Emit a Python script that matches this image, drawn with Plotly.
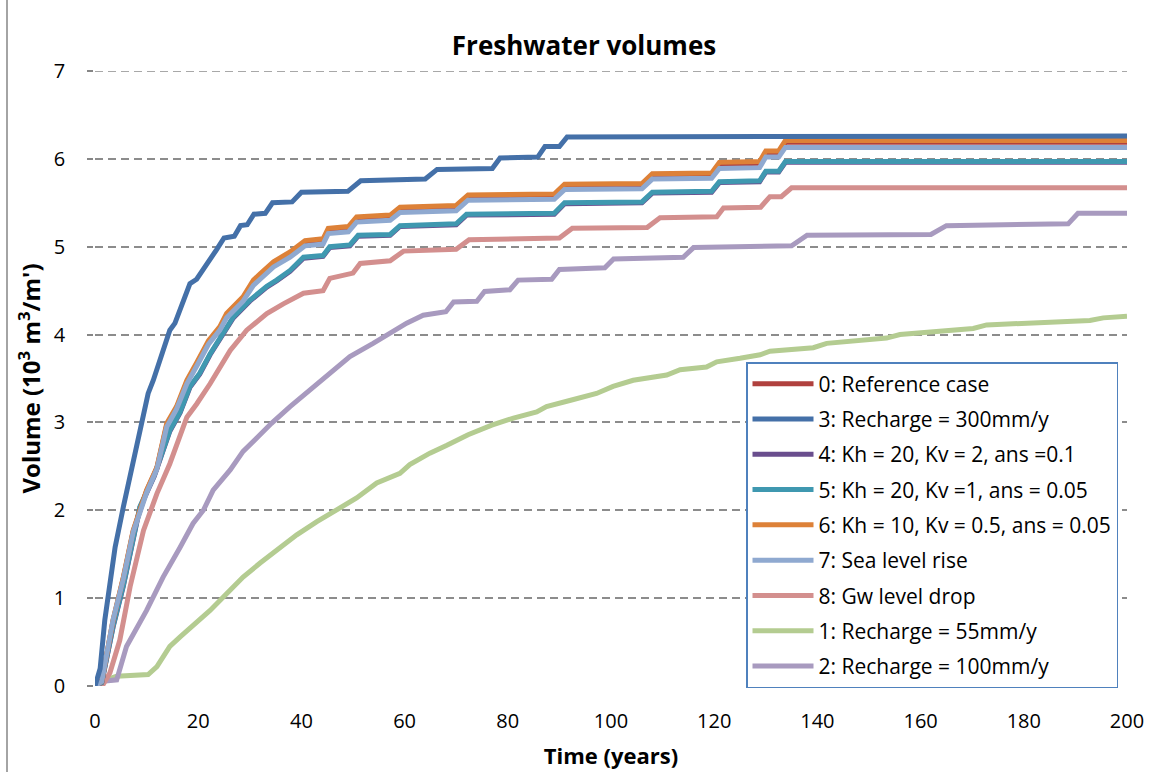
import plotly.graph_objects as go

# ---------------- data ----------------
names = [
    "0: Reference case",
    "3: Recharge = 300mm/y",
    "4: Kh = 20, Kv = 2, ans =0.1",
    "5: Kh = 20, Kv =1, ans = 0.05",
    "6: Kh = 10, Kv = 0.5, ans = 0.05",
    "7: Sea level rise",
    "8: Gw level drop",
    "1: Recharge = 55mm/y",
    "2: Recharge = 100mm/y",
]
colors = ["#B0413E", "#4470A8", "#6A4E8E", "#3F98B0", "#DD8138",
          "#8FA9D0", "#D38F8E", "#B4CC91", "#A89ABF"]

t_ref = [0, 1.3, 3.5, 5.5, 7.4, 10, 12, 13.9, 15.8, 17.8, 19.7, 22.0, 24.2, 25.5, 28.7, 30.7, 32.0,
         34.6, 37.8, 40.7, 44.2, 45.2, 49.1, 50.7, 57.2, 59.1, 70.0, 72.3, 89.0, 91.0, 106.0, 108.0,
         119.5, 121.0, 128.8, 130.0, 132.5, 133.8, 200]
v_ref = [0, 0.05, 0.74, 1.23, 1.76, 2.22, 2.48, 2.97, 3.16, 3.46, 3.66, 3.91, 4.07, 4.22, 4.41, 4.60,
         4.67, 4.81, 4.92, 5.05, 5.07, 5.19, 5.21, 5.32, 5.34, 5.43, 5.45, 5.57, 5.58, 5.69, 5.70,
         5.81, 5.82, 5.94, 5.95, 6.07, 6.07, 6.19, 6.19]

t_300 = [0, 1, 1.9, 3.9, 5.5, 7.4, 9.0, 10.3, 11.3, 12.6, 14.5, 15.5, 18.4, 19.7, 21.3, 22.3, 23.6,
         25.0, 27.0, 28.2, 29.5, 30.8, 33.0, 34.4, 38.2, 40.0, 49.0, 51.5, 64.0, 66.3, 77.0, 78.5,
         85.8, 87.2, 90.0, 91.5, 200]
v_300 = [0, 0.2, 0.75, 1.58, 2.04, 2.57, 2.99, 3.33, 3.48, 3.71, 4.05, 4.13, 4.58, 4.63, 4.76, 4.86,
         4.97, 5.10, 5.12, 5.24, 5.25, 5.37, 5.38, 5.50, 5.51, 5.62, 5.63, 5.75, 5.77, 5.88, 5.89,
         6.01, 6.02, 6.14, 6.14, 6.25, 6.26]

t_kh20kv2 = [0, 1.3, 3.5, 5.5, 8.7, 11.5, 14.5, 16.5, 18.4, 20.3, 22.3, 23.6, 26.8, 30.0, 33.3, 35.2,
             37.8, 40.4, 44.2, 45.5, 49.4, 51.0, 57.2, 59.1, 70.0, 72.0, 89.0, 91.0, 106.0, 108.0,
             119.5, 121.0, 128.8, 130.0, 132.5, 133.8, 200]
v_kh20kv2 = [0, 0.04, 0.67, 1.14, 2.03, 2.39, 2.90, 3.11, 3.40, 3.55, 3.77, 3.89, 4.19, 4.38, 4.54,
             4.61, 4.72, 4.87, 4.89, 4.99, 5.01, 5.12, 5.13, 5.23, 5.25, 5.36, 5.37, 5.49, 5.50, 5.61,
             5.62, 5.73, 5.74, 5.85, 5.85, 5.96, 5.96]

t_kh20kv1 = [0, 1.3, 3.5, 5.5, 8.7, 11.5, 14.5, 16.5, 18.4, 20.3, 22.3, 23.6, 26.8, 30.0, 33.3, 35.2,
             37.8, 40.4, 44.2, 45.5, 49.4, 51.0, 57.2, 59.1, 70.0, 72.0, 89.0, 91.0, 106.0, 108.0,
             119.5, 121.0, 128.8, 130.0, 132.5, 133.8, 200]
v_kh20kv1 = [0, 0.04, 0.68, 1.15, 2.04, 2.40, 2.91, 3.12, 3.41, 3.56, 3.78, 3.90, 4.20, 4.39, 4.55,
             4.62, 4.73, 4.88, 4.90, 5.00, 5.02, 5.13, 5.14, 5.24, 5.26, 5.37, 5.38, 5.50, 5.51, 5.62,
             5.63, 5.74, 5.75, 5.86, 5.86, 5.97, 5.97]

t_kh10 = [0, 1.3, 3.5, 5.5, 7.4, 10, 12, 13.9, 15.8, 17.8, 19.7, 22.0, 24.2, 25.5, 28.7, 30.7, 32.0,
          34.6, 37.8, 40.7, 44.2, 45.2, 49.1, 50.7, 57.2, 59.1, 70.0, 72.3, 89.0, 91.0, 106.0, 108.0,
          119.5, 121.0, 128.8, 130.0, 132.5, 133.8, 200]
v_kh10 = [0, 0.05, 0.75, 1.24, 1.77, 2.23, 2.49, 2.99, 3.18, 3.48, 3.68, 3.93, 4.09, 4.24, 4.43, 4.62,
          4.69, 4.83, 4.94, 5.07, 5.09, 5.21, 5.23, 5.34, 5.36, 5.45, 5.47, 5.59, 5.60, 5.71, 5.72,
          5.83, 5.84, 5.96, 5.97, 6.09, 6.09, 6.21, 6.21]

t_sea = [0, 1.3, 3.5, 5.5, 7.4, 10, 12, 13.9, 15.8, 17.8, 19.7, 22.0, 24.2, 25.5, 28.7, 30.7, 32.0,
         34.6, 37.8, 40.7, 44.2, 45.2, 49.1, 50.7, 57.2, 59.1, 70.0, 72.3, 89.0, 91.0, 106.0, 108.0,
         119.5, 121.0, 128.8, 130.0, 132.5, 133.8, 200]
v_sea = [0, 0.05, 0.75, 1.22, 1.75, 2.20, 2.47, 2.95, 3.15, 3.44, 3.64, 3.89, 4.05, 4.19, 4.38, 4.56,
         4.63, 4.77, 4.88, 5.01, 5.03, 5.15, 5.17, 5.28, 5.30, 5.39, 5.41, 5.53, 5.54, 5.65, 5.66,
         5.77, 5.78, 5.89, 5.90, 6.02, 6.02, 6.13, 6.13]

t_gw = [0, 1.6, 2.9, 4.8, 6.8, 9.4, 12, 14.5, 17.8, 19.7, 22.3, 26.2, 29.4, 33.3, 36.5, 40.4, 44.2,
        45.5, 50.0, 51.4, 57.2, 59.8, 70.0, 72.5, 90.0, 92.5, 107.0, 109.5, 120.5, 121.8, 129.0, 130.8,
        133.0, 135.0, 200]
v_gw = [0, 0.02, 0.15, 0.52, 1.13, 1.77, 2.19, 2.53, 3.06, 3.21, 3.44, 3.82, 4.05, 4.24, 4.35, 4.47,
        4.50, 4.64, 4.70, 4.81, 4.84, 4.95, 4.97, 5.08, 5.10, 5.21, 5.22, 5.33, 5.34, 5.44, 5.45, 5.57,
        5.57, 5.67, 5.67]

t_55 = [0, 1, 4.2, 10.3, 12, 14.5, 16.5, 19, 22.3, 25.5, 28.7, 32, 35.2, 39.1, 43, 46.8, 50.7, 54.6,
        59.1, 61, 64.9, 68.2, 72.3, 76.9, 81.1, 85.6, 87.5, 92, 97.2, 100.4, 104.3, 110.8, 113.4,
        118.5, 120.5, 125, 128.9, 130.8, 139.2, 141.8, 153.4, 156, 170.2, 172.8, 192.8, 195.4, 200]
v_55 = [0, 0.05, 0.11, 0.13, 0.22, 0.45, 0.56, 0.69, 0.86, 1.05, 1.24, 1.40, 1.55, 1.72, 1.87, 2.00,
        2.14, 2.31, 2.42, 2.52, 2.65, 2.74, 2.86, 2.97, 3.05, 3.12, 3.18, 3.25, 3.33, 3.41, 3.48, 3.54,
        3.60, 3.63, 3.69, 3.73, 3.77, 3.81, 3.85, 3.90, 3.96, 4.00, 4.07, 4.11, 4.16, 4.19, 4.21]

t_100 = [0, 1, 4.2, 6.1, 10, 13.2, 16.5, 19, 21, 22.9, 26.2, 28.7, 31.3, 34.2, 37.8, 41.7, 44.2, 49.4,
         53.9, 57.2, 60.4, 63.6, 68.0, 69.5, 74.0, 75.5, 80.4, 82.0, 88.5, 90.0, 98.8, 100.5, 114.0,
         116.0, 135.0, 138.0, 162.0, 165.0, 188.6, 190.5, 200]
v_100 = [0, 0.05, 0.07, 0.45, 0.86, 1.24, 1.58, 1.85, 2.00, 2.23, 2.46, 2.67, 2.82, 2.99, 3.18, 3.37,
         3.48, 3.75, 3.90, 4.01, 4.13, 4.22, 4.26, 4.37, 4.38, 4.49, 4.51, 4.62, 4.63, 4.74, 4.76, 4.86,
         4.88, 4.99, 5.01, 5.13, 5.14, 5.24, 5.26, 5.38, 5.38]

x_ticks = [0, 20, 40, 60, 80, 100, 120, 140, 160, 180, 200]
y_ticks = [0, 1, 2, 3, 4, 5, 6, 7]
y_max = 7

series_t = [t_ref, t_300, t_kh20kv2, t_kh20kv1, t_kh10, t_sea, t_gw, t_55, t_100]
series_v = [v_ref, v_300, v_kh20kv2, v_kh20kv1, v_kh10, v_sea, v_gw, v_55, v_100]
# stacking of the lines (higher = drawn on top), matching visible overlaps
z_levels = [5, 9, 3, 4, 6, 7, 2, 0, 1]

FONT = "Open Sans, sans-serif"
GRID = "#8C8C8C"

# ---------------- figure ----------------
fig = go.Figure()
for i in range(len(names)):
    fig.add_trace(go.Scatter(
        x=series_t[i], y=series_v[i], mode="lines", name=names[i],
        line=dict(color=colors[i], width=5), zorder=z_levels[i],
        legendgroup="g%d" % i,
    ))

L, R, T, B = 95, 29, 71, 86
W, H = 1156, 772
PW, PH = W - L - R, H - T - B

fig.update_layout(
    width=W, height=H,
    margin=dict(l=L, r=R, t=T, b=B),
    paper_bgcolor="white", plot_bgcolor="white",
    font=dict(family=FONT, color="black"),
    title=dict(text="<b>Freshwater volumes</b>", x=(584 - L) / PW, xref="paper",
               xanchor="center", y=1 - 46 / H, yref="container", yanchor="middle",
               font=dict(size=26, family=FONT, color="black")),
    showlegend=True,
    legend=dict(
        x=(746 - L) / PW, y=(H - B - 362) / PH, xanchor="left", yanchor="top",
        bgcolor="white", bordercolor="#4F81BD", borderwidth=1.5,
        font=dict(size=21, family=FONT, color="black"),
        itemwidth=61, tracegroupgap=5, traceorder="grouped",
    ),
    xaxis=dict(
        range=[0, 200], tickvals=x_ticks, showgrid=False, zeroline=False,
        showline=True, linecolor="#868686", linewidth=1.5, ticks="",
        tickfont=dict(size=20, family=FONT, color="black"),
        ticklabelstandoff=16, automargin=False,
        title=dict(text="<b>Time (years)</b>", standoff=16,
                   font=dict(size=22, family=FONT, color="black")),
    ),
    yaxis=dict(
        range=[0, y_max], tickvals=y_ticks, zeroline=False,
        showgrid=True, gridcolor=GRID, gridwidth=1.5, griddash="8px,5px",
        showline=True, linecolor="#868686", linewidth=1.5,
        ticks="outside", ticklen=6, tickcolor="#868686", tickwidth=1.5,
        tickfont=dict(size=20, family=FONT, color="black"),
        ticklabelstandoff=18, automargin=False,
        title=dict(text="<b>Volume (10<sup>3</sup> m<sup>3</sup>/m')</b>", standoff=6,
                   font=dict(size=24, family=FONT, color="black")),
    ),
)

# top gridline at the upper range limit (plotly skips the edge gridline)
fig.add_shape(type="line", xref="paper", yref="y", x0=0, x1=1, y0=y_max, y1=y_max,
              line=dict(color=GRID, width=1.5, dash="8px,5px"), layer="below")

# outer chart frame (left edge visible in the reference)
fig.add_shape(type="line", xref="paper", yref="paper",
              x0=(7 - L) / PW, x1=(7 - L) / PW,
              y0=-B / PH, y1=1 + T / PH,
              line=dict(color="#868686", width=1.5))

fig.write_html("out.html")
